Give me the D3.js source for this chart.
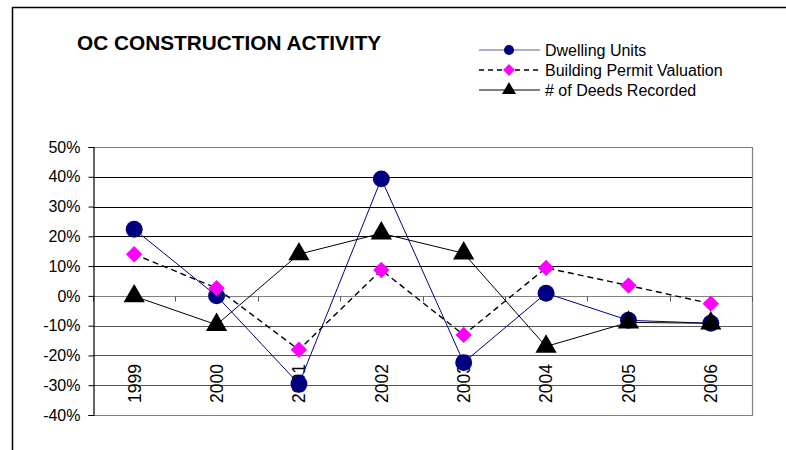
<!DOCTYPE html>
<html>
<head>
<meta charset="utf-8">
<script src="https://cdn.jsdelivr.net/npm/d3@7"></script>
<style>
  html, body { margin: 0; padding: 0; background: #fff; }
  svg { display: block; font-family: "Liberation Sans", Arial, sans-serif; }
</style>
</head>
<body>
<svg id="chart" width="786" height="450"></svg>
<script>
// Year-over-year change, Orange County construction indicators
const years = ["1999", "2000", "2001", "2002", "2003", "2004", "2005", "2006"];
const dwellingUnits   = [22.4, 0.0, -29.6, 39.3, -22.4, 0.9, -8.2, -9.2];
const permitValuation = [14.0, 2.6, -18.1, 8.7, -13.1, 9.4, 3.5, -2.6];
const deedsRecorded   = [-0.1, -9.7, 14.0, 21.0, 14.3, -17.0, -8.9, -9.2];
const yTicks = [-40, -30, -20, -10, 0, 10, 20, 30, 40, 50];
const seriesNames = ["Dwelling Units", "Building Permit Valuation", "# of Deeds Recorded"];

const svg = d3.select("#chart");

const plot = { left: 93, right: 752, top: 147, bottom: 415 };

const x = d3.scalePoint().domain(years).range([plot.left, plot.right]).padding(0.5);
const y = d3.scaleLinear().domain([-40, 50]).range([plot.bottom, plot.top]);

// outer frame
svg.append("path")
  .attr("d", "M12.5,460 V7.5 H800")
  .attr("fill", "none").attr("stroke", "#000").attr("stroke-width", 1.5);

// title
svg.append("text")
  .attr("x", 77).attr("y", 50)
  .attr("font-size", 20.8).attr("font-weight", "bold")
  .text("OC CONSTRUCTION ACTIVITY");

// horizontal gridlines
svg.append("g").selectAll("line")
  .data(yTicks.filter(v => v !== -40 && v !== 0 && v !== 50))
  .join("line")
  .attr("x1", plot.left).attr("x2", plot.right)
  .attr("y1", d => Math.round(y(d)) + 0.5).attr("y2", d => Math.round(y(d)) + 0.5)
  .attr("stroke", d => d > 0 ? "#000" : "#555")
  .attr("stroke-width", d => d > 0 ? 1 : 1.2);

// plot area border (top, right, bottom)
svg.append("path")
  .attr("d", `M${plot.left},${plot.top + 0.5} H${plot.right + 0.5} V${plot.bottom + 0.5} H${plot.left}`)
  .attr("fill", "none").attr("stroke", "#808080").attr("stroke-width", 1.2);

// category axis at 0%
const zeroY = Math.round(y(0)) + 0.5;
svg.append("line")
  .attr("x1", plot.left).attr("x2", plot.right + 1)
  .attr("y1", zeroY).attr("y2", zeroY)
  .attr("stroke", "#808080").attr("stroke-width", 1.2);
const step = x.step();
svg.append("g").selectAll("line")
  .data(d3.range(years.length + 1))
  .join("line")
  .attr("x1", i => Math.round(plot.left + i * step) + 0.5)
  .attr("x2", i => Math.round(plot.left + i * step) + 0.5)
  .attr("y1", zeroY).attr("y2", zeroY + 5)
  .attr("stroke", "#555").attr("stroke-width", 1);

// value axis
const pctLocale = d3.formatLocale({ decimal: ".", thousands: ",", grouping: [3], currency: ["$", ""], minus: "-" });
const fmt = d => pctLocale.format("d")(d) + "%";
const yAxis = svg.append("g")
  .attr("transform", `translate(${plot.left + 0.5},0)`)
  .call(d3.axisLeft(y).tickValues(yTicks).tickFormat(fmt).tickSize(5).tickPadding(8));
yAxis.select(".domain").attr("stroke", "#000").attr("stroke-width", 1.2);
yAxis.selectAll(".tick line").attr("stroke", "#000");
yAxis.selectAll(".tick text")
  .attr("font-size", 16).attr("fill", "#000")
  .attr("font-family", "'Liberation Sans', Arial, sans-serif");

// year labels, rotated, along the bottom of the plot
svg.append("g").selectAll("text")
  .data(years)
  .join("text")
  .attr("transform", d => `translate(${x(d)},403) rotate(-90)`)
  .attr("dy", "0.36em")
  .attr("font-size", 17.5)
  .text(d => d);

// series
const series = [
  { name: seriesNames[0], values: dwellingUnits, stroke: "#000080", dash: null, width: 1, marker: "circle", fill: "#000080" },
  { name: seriesNames[1], values: permitValuation, stroke: "#000", dash: "6,4", width: 1.4, marker: "diamond", fill: "#ff00ff" },
  { name: seriesNames[2], values: deedsRecorded, stroke: "#000", dash: null, width: 1, marker: "triangle", fill: "#000" }
];

const symbolFor = m => {
  if (m === "circle") return d3.symbol(d3.symbolCircle, 225)();
  if (m === "diamond") return d3.symbol(d3.symbolSquare, 135)();
  return d3.symbol(d3.symbolTriangle, 195)();
};

const line = d3.line().x((d, i) => x(years[i])).y(d => y(d));

series.forEach(s => {
  const g = svg.append("g");
  g.append("path")
    .attr("d", line(s.values))
    .attr("fill", "none").attr("stroke", s.stroke)
    .attr("stroke-width", s.width)
    .attr("stroke-dasharray", s.dash);
  g.selectAll("path.mark")
    .data(s.values)
    .join("path")
    .attr("class", "mark")
    .attr("d", symbolFor(s.marker))
    .attr("transform", (d, i) => `translate(${x(years[i])},${y(d)})` + (s.marker === "diamond" ? " rotate(45)" : ""))
    .attr("fill", s.fill);
});

// legend
const legend = svg.append("g");
series.forEach((s, i) => {
  const ly = 50 + i * 20;
  legend.append("line")
    .attr("x1", 479).attr("x2", 540).attr("y1", ly).attr("y2", ly)
    .attr("stroke", i === 0 ? "#5a5ab4" : s.stroke)
    .attr("stroke-width", i === 1 ? 1.6 : 1.2)
    .attr("stroke-dasharray", i === 1 ? "5,4" : null);
  legend.append("path")
    .attr("d", i === 0 ? d3.symbol(d3.symbolCircle, 80)()
              : i === 1 ? d3.symbol(d3.symbolSquare, 70)()
              : d3.symbol(d3.symbolTriangle, 85)())
    .attr("transform", `translate(509,${ly})` + (i === 1 ? " rotate(45)" : ""))
    .attr("fill", s.fill);
  legend.append("text")
    .attr("x", 545).attr("y", ly).attr("dy", "0.36em")
    .attr("font-size", 16)
    .text(s.name);
});
</script>
</body>
</html>
